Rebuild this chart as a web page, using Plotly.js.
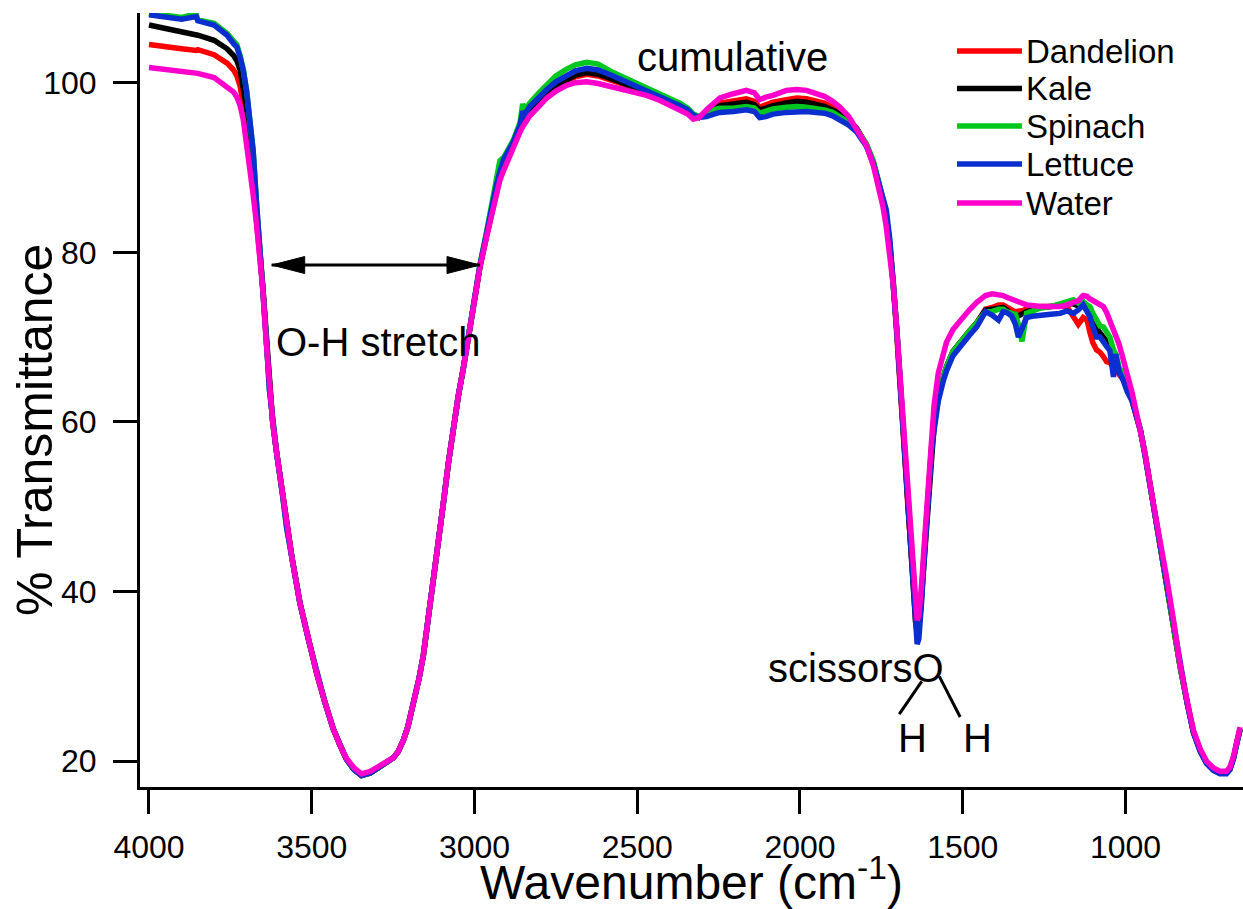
<!DOCTYPE html>
<html>
<head>
<meta charset="utf-8">
<script src="https://cdn.plot.ly/plotly-3.0.1.min.js"></script>
<style>html,body{margin:0;padding:0;background:#fff;}#chart{width:1243px;height:909px;}</style>
</head>
<body>
<div id="chart"></div>
<script>
// Wavenumber grid (cm-1), shared by all spectra
const wavenumber = [
 4000,3950,3900,3855,3850,3800,3760,3740,3730,3720,3710,3700,3690,3680,3670,3660,3650,3640,3630,3620,
 3608,3590,3577,3560,3536,3510,3485,3460,3434,3410,3393,3370,3347,3320,3290,3265,3249,3235,3219,3205,3188,3170,3157,3140,3126,3110,3096,3080,3065,3050,3034,3020,3004,
 2983,2963,2945,2932,2922,2910,2881,2860,2852,2845,2830,2800,2778,2750,2717,2690,2655,2620,2574,2520,2471,2430,2399,2369,2345,2328,2310,
 2287,2265,2246,2205,2165,2140,2124,2105,2083,2042,2010,1980,1950,1925,1900,1877,1850,1826,1796,1775,1760,1745,1735,1724,1713,1703,1693,1683,1675,1668,1660,1652,1645,1640,1635,1630,1626,1620,1611,1603,1596,1588,1575,1560,1550,1530,1507,1480,1457,
 1430,1410,1390,1376,1365,1350,1338,1329,1318,1304,1280,1263,1230,1201,1180,1160,1145,1130,1118,1109,1100,1089,1078,1068,1058,1048,1037,1030,1020,1007,995,980,966,954,940,914,890,873,850,832,810,791,770,751,730,710,690,679,668,658,648
];

const dandelion = [
 104.5,104.2,104.0,103.8,103.9,103.3,102.3,101.5,100.8,99.6,97.5,95.0,91.8,88.0,84.0,80.3,75.8,69.8,63.6,60.0,
 56.4,51.5,47.5,43.8,38.6,34.3,30.4,27.0,23.8,21.6,20.2,19.0,18.3,18.6,19.3,19.9,20.4,21.1,22.4,24.0,26.6,29.8,32.5,37.2,41.5,46.3,50.3,55.2,59.3,63.0,66.4,69.8,73.5,
 78.3,81.9,85.2,87.5,88.8,90.2,92.7,94.5,95.3,95.5,96.5,97.7,98.5,99.4,100.2,100.7,101.0,100.8,100.2,99.6,98.9,98.2,97.7,97.2,96.7,96.1,95.9,
 96.6,97.3,97.6,97.9,98.1,97.8,97.1,97.4,97.7,98.0,98.2,98.1,97.9,97.6,97.1,96.5,95.6,94.6,92.7,90.5,88.4,86.0,84.0,80.8,76.3,71.0,65.2,59.0,54.1,49.7,44.9,40.0,36.4,35.2,35.8,37.6,39.8,43.6,48.8,53.5,57.0,59.6,63.0,65.3,66.5,68.3,69.5,70.7,71.7,
 73.3,73.5,73.8,73.8,73.5,73.2,73.0,73.0,73.1,73.3,73.5,73.6,73.6,73.7,73.6,72.5,71.5,72.3,72.0,70.5,69.3,68.5,68.2,67.7,67.1,67.0,66.5,66.2,65.8,65.0,63.9,62.5,60.6,58.9,56.2,50.1,45.3,41.3,35.8,31.1,26.8,23.4,21.2,19.8,19.0,18.6,18.6,19.1,20.4,22.3,23.8
];

const kale = [
 106.8,106.4,106.0,105.7,105.6,105.0,104.0,103.2,102.6,101.5,99.5,97.0,94.0,90.0,85.0,80.5,75.8,69.8,63.6,60.0,
 56.4,51.5,47.5,43.8,38.6,34.3,30.4,27.0,23.8,21.6,20.2,19.0,18.3,18.6,19.3,19.9,20.4,21.1,22.4,24.0,26.6,29.8,32.5,37.2,41.5,46.3,50.3,55.2,59.3,63.0,66.4,69.8,73.5,
 78.4,82.0,85.4,87.6,89.0,90.4,92.8,94.6,95.5,95.6,96.6,97.8,98.7,99.6,100.4,100.9,101.2,101.0,100.4,99.7,98.9,98.2,97.7,97.2,96.7,96.1,95.9,
 96.4,97.0,97.3,97.5,97.7,97.4,96.8,97.0,97.3,97.6,97.8,97.7,97.5,97.2,96.8,96.3,95.5,94.6,92.7,90.6,88.5,86.2,84.2,81.0,76.3,71.0,65.2,59.0,54.1,49.7,44.9,40.0,36.4,35.2,35.8,37.6,39.8,43.6,48.8,53.5,57.0,59.6,63.0,65.3,66.5,68.3,69.5,70.7,71.7,
 73.2,73.3,73.5,73.5,73.2,72.6,72.3,72.5,72.8,73.0,73.3,73.5,73.6,73.8,74.0,73.9,73.7,74.0,73.4,73.0,72.0,71.0,70.5,70.0,69.5,69.0,67.8,67.3,66.2,65.2,64.0,62.7,60.7,59.0,56.2,50.1,45.3,41.3,35.8,31.1,26.8,23.4,21.2,19.8,19.0,18.6,18.6,19.1,20.4,22.3,23.8
];

const spinach = [
 108.2,108.0,107.7,108.1,107.4,107.0,105.8,104.9,104.5,103.2,101.5,99.0,95.8,92.0,86.0,81.0,76.0,70.0,63.8,60.1,
 56.4,51.5,47.5,43.8,38.6,34.3,30.4,27.0,23.8,21.6,20.2,19.0,18.3,18.6,19.3,19.9,20.4,21.1,22.4,24.0,26.6,29.8,32.5,37.2,41.5,46.3,50.3,55.2,59.3,63.0,66.4,69.8,73.5,
 78.6,82.4,86.0,88.3,90.8,91.2,93.2,95.3,97.5,96.8,97.6,98.9,99.8,100.8,101.6,102.1,102.4,102.2,101.2,100.2,99.3,98.6,98.1,97.6,97.0,96.3,96.0,
 96.3,96.8,97.0,97.0,97.2,97.0,96.4,96.6,96.9,97.1,97.2,97.1,97.0,96.8,96.5,96.0,95.3,94.5,92.8,90.8,88.8,86.3,84.5,81.0,76.3,71.0,65.2,59.0,54.1,49.7,44.9,40.0,36.4,35.2,35.8,37.6,39.8,43.6,48.8,53.5,57.0,59.6,63.0,65.3,66.5,68.3,69.5,70.7,71.7,
 73.0,73.0,73.3,73.3,73.0,72.8,72.7,71.5,69.5,72.8,73.2,73.4,73.6,73.9,74.2,74.4,74.0,74.2,73.8,73.6,72.8,72.0,71.3,71.2,70.5,70.0,68.5,68.0,66.5,65.5,64.2,62.8,60.7,59.0,56.2,50.1,45.3,41.3,35.8,31.1,26.8,23.4,21.2,19.8,19.0,18.6,18.6,19.1,20.4,22.3,23.8
];

const lettuce = [
 108.0,107.8,107.5,107.8,107.3,106.8,105.6,104.6,104.2,103.0,101.4,99.0,95.8,92.0,86.0,81.0,76.0,70.0,63.8,60.1,
 56.4,51.5,47.5,43.8,38.6,34.3,30.4,27.0,23.8,21.6,20.2,19.0,18.3,18.6,19.3,19.9,20.4,21.1,22.4,24.0,26.6,29.8,32.5,37.2,41.5,46.3,50.3,55.2,59.3,63.0,66.4,69.8,73.5,
 78.5,82.2,85.8,88.0,89.5,91.0,93.0,95.0,96.6,96.3,97.2,98.4,99.2,100.1,100.9,101.4,101.7,101.5,100.8,99.9,99.0,98.3,97.8,97.3,96.8,96.2,95.9,
 96.0,96.3,96.5,96.6,96.8,96.6,95.9,96.0,96.3,96.5,96.6,96.6,96.5,96.4,96.1,95.6,95.0,94.2,92.5,90.5,88.5,86.5,85.0,81.5,76.5,71.0,65.0,59.0,54.0,49.5,44.5,39.2,35.0,33.8,34.4,36.6,39.0,43.1,48.3,53.0,56.5,59.0,62.5,64.8,66.0,67.8,69.0,70.2,71.2,
 73.0,72.6,72.0,73.0,72.9,72.5,71.5,70.0,71.2,72.3,72.5,72.6,72.7,72.8,73.1,72.8,73.2,73.8,72.8,72.4,71.2,70.0,70.0,69.3,68.9,68.4,65.3,68.0,66.0,64.9,63.6,62.5,60.5,59.0,56.0,50.0,45.2,41.2,35.7,31.0,26.7,23.3,21.1,19.7,18.9,18.5,18.5,19.0,20.3,22.2,23.7
];

const water = [
 101.8,101.6,101.3,101.1,101.1,100.6,99.5,98.9,98.3,97.3,95.6,93.0,90.2,86.8,83.5,80.0,75.5,69.5,63.5,60.0,
 56.4,51.5,47.5,43.8,38.6,34.3,30.4,27.0,23.8,21.6,20.3,19.2,18.5,18.8,19.4,19.9,20.4,21.1,22.4,24.0,26.6,29.8,32.5,37.2,41.5,46.3,50.3,55.2,59.3,63.0,66.4,69.8,73.5,
 78.3,81.8,85.0,87.2,88.5,89.7,92.5,94.2,94.8,95.3,96.1,97.3,98.2,99.0,99.7,100.0,100.1,99.9,99.5,99.0,98.5,97.9,97.3,96.8,96.3,95.7,95.9,
 96.8,97.6,98.2,98.7,99.1,98.8,98.0,98.3,98.5,99.1,99.2,99.1,98.8,98.4,97.8,97.1,96.0,94.6,92.6,90.3,88.0,85.4,83.0,80.0,76.0,71.2,65.5,59.3,54.5,50.3,45.8,41.3,37.8,36.6,37.1,39.0,41.0,44.6,50.0,55.3,59.3,62.0,65.8,68.0,69.4,70.9,72.0,73.2,74.1,
 74.9,75.1,75.0,74.9,74.7,74.5,74.3,74.2,74.1,73.8,73.7,73.6,73.6,73.6,73.8,74.0,74.3,74.9,74.8,74.5,74.3,74.1,74.0,73.6,72.9,72.0,71.0,70.3,69.2,67.4,65.8,63.5,61.0,59.0,56.3,50.3,45.5,41.5,36.0,31.3,27.0,23.6,21.4,20.0,19.2,18.8,18.8,19.3,20.6,22.5,24.0
];

const seriesNames = ['Dandelion', 'Kale', 'Spinach', 'Lettuce', 'Water'];
const seriesValues = [dandelion, kale, spinach, lettuce, water];
const seriesColors = ['#ff0000', '#000000', '#00c81e', '#0a2ecf', '#ff00cc'];

const xTicks = [4000, 3500, 3000, 2500, 2000, 1500, 1000];
const yTicks = [20, 40, 60, 80, 100];

const FONT = 'Liberation Sans, Arial, Helvetica, sans-serif';

const traces = seriesNames.map((name, i) => ({
  type: 'scatter', mode: 'lines', name: name,
  x: wavenumber, y: seriesValues[i],
  line: {color: seriesColors[i], width: 5.5},
  showlegend: false, hoverinfo: 'x+y+name'
}));

// manual legend (long line samples as in the reference)
const legendRowsY = [0.9509, 0.9024, 0.8540, 0.8049, 0.7545];
const shapes = [];
const annotations = [];
seriesNames.forEach((name, i) => {
  shapes.push({type: 'line', xref: 'paper', yref: 'paper', x0: 0.7407, x1: 0.7996,
    y0: legendRowsY[i], y1: legendRowsY[i], line: {color: seriesColors[i], width: 5.5}});
  annotations.push({xref: 'paper', yref: 'paper', x: 0.8010, y: legendRowsY[i], xanchor: 'left', yanchor: 'middle',
    text: name, showarrow: false, font: {family: FONT, size: 33, color: '#000'}});
});

// O-H stretch double arrow
shapes.push({type: 'line', xref: 'x', yref: 'y', x0: 3623, x1: 2983, y0: 78.5, y1: 78.5, line: {color: '#000', width: 3}});
shapes.push({type: 'path', xref: 'x', yref: 'y', xsizemode: 'pixel', ysizemode: 'pixel', xanchor: 3623, yanchor: 78.5,
  path: 'M0,0 L33,8.5 L33,-8.5 Z', fillcolor: '#000', line: {color: '#000', width: 1}});
shapes.push({type: 'path', xref: 'x', yref: 'y', xsizemode: 'pixel', ysizemode: 'pixel', xanchor: 2983, yanchor: 78.5,
  path: 'M0,0 L-33,8.5 L-33,-8.5 Z', fillcolor: '#000', line: {color: '#000', width: 1}});

// water molecule bonds
shapes.push({type: 'line', xref: 'x', yref: 'y', x0: 1626, y0: 29.4, x1: 1695, y1: 25.55, line: {color: '#000', width: 3}});
shapes.push({type: 'line', xref: 'x', yref: 'y', x0: 1572, y0: 30.0, x1: 1508, y1: 25.2, line: {color: '#000', width: 3}});

const annFont = {family: FONT, size: 40, color: '#000'};
annotations.push({x: 2206, y: 103.0, xref: 'x', yref: 'y', text: 'cumulative', showarrow: false, font: annFont});
annotations.push({x: 3295, y: 69.4, xref: 'x', yref: 'y', text: 'O-H stretch', showarrow: false, font: annFont});
annotations.push({x: 1828, y: 31.0, xref: 'x', yref: 'y', text: 'scissorsO', showarrow: false, font: annFont});
annotations.push({x: 1653, y: 22.7, xref: 'x', yref: 'y', text: 'H', showarrow: false, font: annFont});
annotations.push({x: 1456, y: 22.7, xref: 'x', yref: 'y', text: 'H', showarrow: false, font: annFont});
// y-axis title, placed off-centre as in the reference
annotations.push({xref: 'paper', yref: 'paper', x: -0.0952, y: 0.4612, xanchor: 'center', yanchor: 'middle',
  textangle: -90, text: '% Transmittance', showarrow: false, font: {family: FONT, size: 50, color: '#000'}});

const layout = {
  width: 1243, height: 909,
  margin: {l: 140, r: 0, t: 13, b: 122, pad: 0},
  paper_bgcolor: '#fff', plot_bgcolor: '#fff',
  font: {family: FONT, color: '#000'},
  showlegend: false,
  xaxis: {
    range: [4027.6, 639], tickmode: 'array', tickvals: xTicks, ticktext: xTicks.map(String),
    ticks: 'outside', ticklen: 24, tickwidth: 3, tickcolor: '#000', ticklabelstandoff: 6,
    showline: true, linewidth: 3, linecolor: '#000', showgrid: false, zeroline: false,
    tickfont: {family: FONT, size: 32, color: '#000'},
    title: {text: 'Wavenumber (cm<sup>-1</sup>)', font: {family: FONT, size: 48, color: '#000'}, standoff: 0},
    automargin: false
  },
  yaxis: {
    range: [16.95, 108.22], tickmode: 'array', tickvals: yTicks, ticktext: yTicks.map(String),
    ticks: 'outside', ticklen: 24, tickwidth: 3, tickcolor: '#000', ticklabelstandoff: 10,
    showline: true, linewidth: 3, linecolor: '#000', showgrid: false, zeroline: false,
    tickfont: {family: FONT, size: 32, color: '#000'},
    automargin: false
  },
  shapes: shapes,
  annotations: annotations
};

Plotly.newPlot('chart', traces, layout, {staticPlot: true, displayModeBar: false});
</script>
</body>
</html>
